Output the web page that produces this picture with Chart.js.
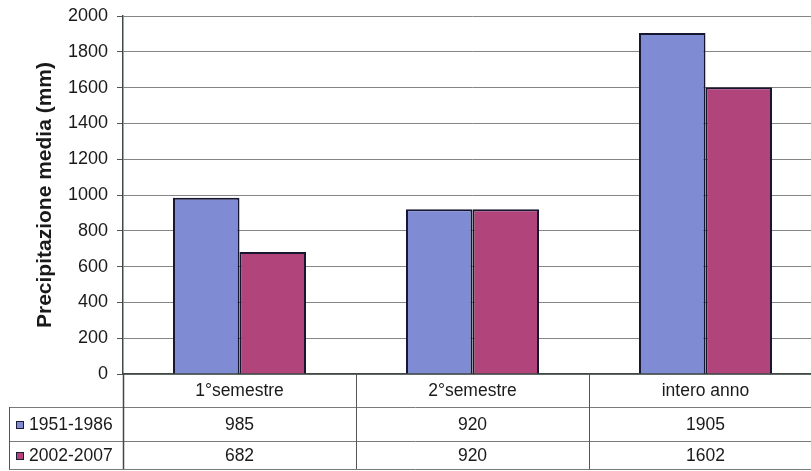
<!DOCTYPE html>
<html>
<head>
<meta charset="utf-8">
<script src="https://cdn.jsdelivr.net/npm/chart.js@4/dist/chart.umd.min.js"></script>
<style>
  html, body { margin: 0; padding: 0; background: #fff; overflow: hidden; }
  #wrap { position: relative; width: 830px; height: 471px; }
</style>
</head>
<body>
<div id="wrap"><canvas id="c" width="830" height="471"></canvas></div>
<script>
// Periods and seasonal averages of precipitation (mm)
const categories = ['1°semestre', '2°semestre', 'intero anno'];
const seriesNames = ['1951-1986', '2002-2007'];
const values1951 = [985, 920, 1905];
const values2002 = [682, 920, 1602];
const yTicks = [0, 200, 400, 600, 800, 1000, 1200, 1400, 1600, 1800, 2000];

const FONT = '"Liberation Sans", Arial, sans-serif';
const colors = ['#7f8bd2', '#b0447b'];
const seriesValues = [values1951, values2002];

// Data table drawn underneath the plot area, aligned to the category scale
const dataTable = {
  id: 'dataTable',
  afterDraw(chart) {
    const ctx = chart.ctx;
    const xs = chart.scales.x;
    const area = chart.chartArea;
    const n = categories.length;
    const colW = xs.width / n;
    const top = area.bottom;
    const rows = [top, top + 33, top + 67, top + 95];
    const tableLeft = 9;
    const right = xs.right;

    ctx.save();
    ctx.lineWidth = 1;
    // horizontal row lines
    ctx.strokeStyle = '#7a7a7a';
    for (let r = 1; r < rows.length; r++) {
      ctx.beginPath();
      ctx.moveTo(tableLeft, rows[r] + 0.5);
      ctx.lineTo(right, rows[r] + 0.5);
      ctx.stroke();
    }
    // left border of the legend column
    ctx.strokeStyle = '#555';
    ctx.beginPath();
    ctx.moveTo(tableLeft + 0.5, rows[1]);
    ctx.lineTo(tableLeft + 0.5, rows[3]);
    ctx.stroke();
    // column separators (axis line continues down through the table)
    for (let i = 0; i <= n; i++) {
      const x = Math.round(xs.left + i * colW) + 0.5;
      ctx.strokeStyle = i === 0 ? '#3f4a46' : '#555';
      ctx.lineWidth = i === 0 ? 1.5 : 1;
      ctx.beginPath();
      ctx.moveTo(x, top);
      ctx.lineTo(x, rows[3]);
      ctx.stroke();
    }

    // texts
    ctx.fillStyle = '#1a1a1a';
    ctx.font = '17.5px ' + FONT;
    ctx.textAlign = 'center';
    ctx.textBaseline = 'middle';
    categories.forEach((c, i) => {
      const cx = xs.getPixelForValue(i);
      ctx.fillText(c, cx, (rows[0] + rows[1]) / 2 + 1);
      seriesValues.forEach((vals, s) => {
        ctx.fillText(String(vals[i]), cx, (rows[s + 1] + rows[s + 2]) / 2 + 1);
      });
    });

    // legend keys and series names
    seriesNames.forEach((name, s) => {
      const cy = (rows[s + 1] + rows[s + 2]) / 2 + 1;
      ctx.fillStyle = colors[s];
      ctx.fillRect(16, cy - 4, 8, 8);
      ctx.strokeStyle = '#1b1b33';
      ctx.lineWidth = 1;
      ctx.strokeRect(16.5, cy - 3.5, 7, 7);
      ctx.fillStyle = '#1a1a1a';
      ctx.textAlign = 'left';
      ctx.fillText(name, 29, cy);
    });
    ctx.restore();
  }
};

new Chart(document.getElementById('c'), {
  type: 'bar',
  data: {
    labels: categories,
    datasets: seriesNames.map((name, s) => ({
      label: name,
      data: seriesValues[s],
      backgroundColor: colors[s],
      borderColor: '#161630',
      borderWidth: 2,
      borderSkipped: 'bottom',
      barPercentage: 1,
      categoryPercentage: 0.571
    }))
  },
  options: {
    responsive: false,
    animation: false,
    devicePixelRatio: 1,
    layout: { padding: { left: 0, top: 16, right: 8, bottom: 2 } },
    plugins: { legend: { display: false }, tooltip: { enabled: false } },
    scales: {
      x: {
        ticks: { display: false },
        grid: { display: false, drawTicks: false },
        border: { display: true, color: '#3f4a46', width: 1.5 },
        afterFit(s) { s.height = 95; }
      },
      y: {
        min: 0,
        max: 2000,
        afterBuildTicks(s) { s.ticks = yTicks.map(v => ({ value: v })); },
        ticks: {
          color: '#1a1a1a',
          font: { family: FONT, size: 18 },
          padding: 9,
          callback: v => String(v)
        },
        grid: { color: '#858585', lineWidth: 1, tickLength: 6, tickColor: '#555' },
        border: { display: true, color: '#3f4a46', width: 1.5 },
        title: {
          display: true,
          text: 'Precipitazione media (mm)',
          color: '#1a1a1a',
          font: { family: FONT, size: 21, weight: 'bold' },
          padding: { top: 33, bottom: 0 }
        },
        afterFit(s) {
          s.width = 123;
          s.paddingTop = 0;
          s.paddingBottom = 0;
        }
      }
    }
  },
  plugins: [dataTable]
});
</script>
</body>
</html>
